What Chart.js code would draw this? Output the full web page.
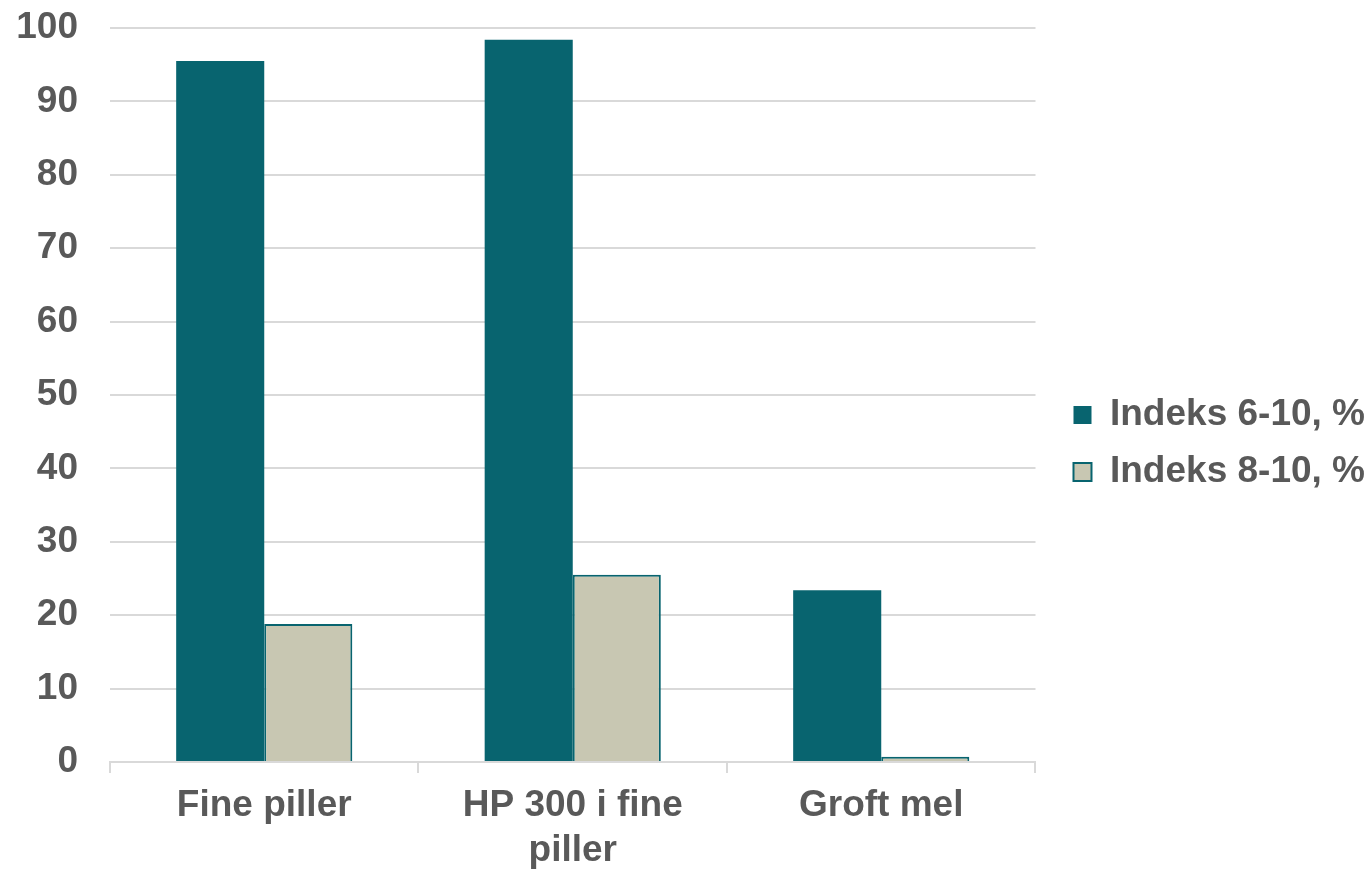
<!DOCTYPE html>
<html>
<head>
<meta charset="utf-8">
<script src="https://cdn.jsdelivr.net/npm/chart.js@4.4.1/dist/chart.umd.min.js"></script>
<style>
  html, body { margin: 0; padding: 0; background: #fff; }
  #wrap { width: 1370px; height: 869px; }
</style>
</head>
<body>
<div id="wrap"><canvas id="grafico"></canvas></div>
<script>
// Data
const kategorier = [['Fine piller'], ['HP 300 i fine', 'piller'], ['Groft mel']];
const indeks6til10 = [95.5, 98.4, 23.4];
const indeks8til10 = [18.8, 25.5, 0.7];
const yTicks = [0, 10, 20, 30, 40, 50, 60, 70, 80, 90, 100];

const tekstFarge = '#595959';
const gridFarge = '#D9D9D9';
const font = 'Arial, "Liberation Sans", sans-serif';
const fontStr = 37;

// Legenden står litt lenger unna plottet enn Chart.js gir som standard
const legendeAvstand = 18;
const legendeLoft = 5;
const legendePlugin = {
    id: 'legendePlugin',
    beforeLayout(chart) {
        const legend = chart.legend;
        if (!legend || legend._utvidet) return;
        const fit = legend.fit;
        legend.fit = function () {
            fit.call(this);
            this.width += legendeAvstand;
        };
        legend._utvidet = true;
    },
    afterLayout(chart) {
        if (!chart.legend) return;
        chart.legend.left += legendeAvstand;
        chart.legend.top -= legendeLoft;
        chart.legend.bottom -= legendeLoft;
    }
};

new Chart(document.getElementById('grafico').getContext('2d'), {
    type: 'bar',
    data: {
        labels: kategorier,
        datasets: [
            {
                label: 'Indeks 6-10, %',
                data: indeks6til10,
                backgroundColor: '#08646F',
                borderColor: '#08646F',
                borderWidth: 0
            },
            {
                label: 'Indeks 8-10, %',
                data: indeks8til10,
                backgroundColor: '#C8C7B2',
                borderColor: '#08646F',
                borderWidth: 2
            }
        ]
    },
    plugins: [legendePlugin],
    options: {
        responsive: true,
        maintainAspectRatio: false,
        animation: false,
        layout: { padding: { left: 18, top: 28, right: -5, bottom: 0 } },
        datasets: {
            bar: { categoryPercentage: 0.571, barPercentage: 1.0 }
        },
        plugins: {
            tooltip: { enabled: false },
            legend: {
                position: 'right',
                labels: {
                    boxWidth: 18,
                    boxHeight: 18,
                    padding: 20,
                    color: tekstFarge,
                    font: { family: font, size: fontStr, weight: 'bold' }
                }
            }
        },
        scales: {
            x: {
                grid: {
                    offset: true,
                    drawOnChartArea: false,
                    drawTicks: true,
                    tickLength: 11,
                    color: gridFarge,
                    lineWidth: 2
                },
                border: { color: gridFarge, width: 2 },
                ticks: {
                    color: tekstFarge,
                    padding: 11,
                    maxRotation: 0,
                    font: { family: font, size: fontStr, weight: 'bold', lineHeight: 1.2 }
                },
                afterFit: (axis) => {
                    axis.height = 107;
                    axis.paddingLeft = 0;
                    axis.paddingRight = 0;
                }
            },
            y: {
                min: 0,
                max: 100,
                afterBuildTicks: (axis) => { axis.ticks = yTicks.map(v => ({ value: v })); },
                grid: { color: gridFarge, lineWidth: 2, drawTicks: false },
                border: { display: false },
                ticks: {
                    color: tekstFarge,
                    padding: 32,
                    font: { family: font, size: fontStr, weight: 'bold' }
                },
                afterFit: (axis) => {
                    axis.width = 92;
                    axis.paddingTop = 0;
                    axis.paddingBottom = 0;
                }
            }
        }
    }
});
</script>
</body>
</html>
